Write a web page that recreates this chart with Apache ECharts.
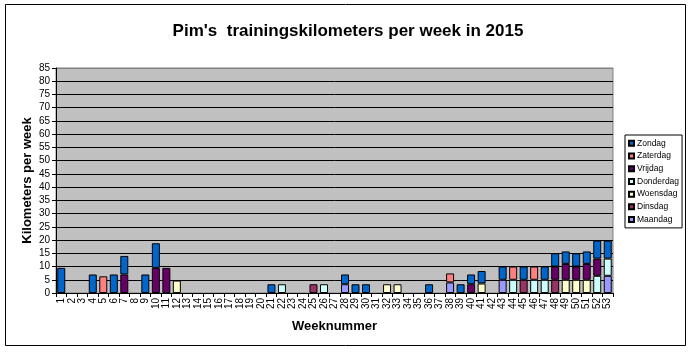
<!DOCTYPE html>
<html><head><meta charset="utf-8">
<script src="https://cdn.jsdelivr.net/npm/echarts@6/dist/echarts.min.js"></script>
<style>html,body{margin:0;padding:0;background:#fff}#c{width:689px;height:352px}</style>
</head><body><div id="c"></div>
<script>
const _ = null;
const weeks = Array.from({length:53},(v,i)=>String(i+1));
const yTicks = {min:0,max:85,interval:5};
//                1  2  3  4  5  6  7  8  9  10   11 12 13 14 15 16 17 18 19 20   21 22 23 24 25 26 27 28 29 30   31 32 33 34 35 36 37 38 39 40   41 42 43 44 45 46 47 48 49 50   51 52 53
const maandag   = [_,_,_,_,_,_,_,_,_,_,  _,_,_,_,_,_,_,_,_,_,  _,_,_,_,_,_,_,3.3,_,_,  _,_,_,_,_,_,_,4,_,_,  _,_,5,_,_,_,_,_,_,_,  _,_,6.5];
const dinsdag   = [_,_,_,_,_,_,_,_,_,_,  _,_,_,_,_,_,_,_,_,_,  _,_,_,_,3.3,_,_,_,_,_,  _,_,_,_,_,_,_,_,_,_,  _,_,_,_,5,_,_,5,_,_,  _,_,_];
const woensdag  = [_,_,_,_,_,_,_,_,_,_,  _,4.7,_,_,_,_,_,_,_,_,  _,_,_,_,_,_,_,_,_,_,  _,3.3,3.3,_,_,_,_,_,_,_,  3.6,_,_,_,_,_,_,_,5,5,  5,_,_];
const donderdag = [_,_,_,_,_,_,_,_,_,_,  _,_,_,_,_,_,_,_,_,_,  _,3.3,_,_,_,3.3,_,_,_,_,  _,_,_,_,_,_,_,_,_,_,  _,_,_,5,_,5,5,_,_,_,  _,6.5,6.5];
const vrijdag   = [_,_,_,_,_,_,7,_,_,9.5,  9.5,_,_,_,_,_,_,_,_,_,  _,_,_,_,_,_,_,_,_,_,  _,_,_,_,_,_,_,_,_,3.3,  _,_,_,_,_,_,_,5,6,5,  6,6.5,_];
const zaterdag  = [_,_,_,_,6.3,_,_,_,_,_,  _,_,_,_,_,_,_,_,_,_,  _,_,_,_,_,_,_,_,_,_,  _,_,_,_,_,_,_,3.4,_,_,  _,_,_,5,_,5,_,_,_,_,  _,_,_];
const zondag    = [9.5,_,_,7,_,7,7,_,7,9.3,  _,_,_,_,_,_,_,_,_,_,  3.3,_,_,_,_,_,_,3.7,3.3,3.3,  _,_,_,_,_,3.3,_,_,3.3,3.7,  4.7,_,5,_,5,_,5,5,4.7,5,  4.7,6.8,6.8];

const seriesDefs = [
  ['Maandag', maandag, '#9999FF'],
  ['Dinsdag', dinsdag, '#993366'],
  ['Woensdag', woensdag, '#FFFFCC'],
  ['Donderdag', donderdag, '#CCFFFF'],
  ['Vrijdag', vrijdag, '#660066'],
  ['Zaterdag', zaterdag, '#FF8080'],
  ['Zondag', zondag, '#0066CC']
];
const F = '"Liberation Sans", Arial, sans-serif';
const chart = echarts.init(document.getElementById('c'), null, {renderer:'canvas'});
const splitColors = Array.from({length:18},(v,i)=> i===17 ? '#808080' : '#000000');
chart.setOption({
  animation:false,
  backgroundColor:'#ffffff',
  title:{text:"Pim's  trainingskilometers per week in 2015", left:343, top:18, textAlign:'center',
    textStyle:{fontFamily:F, fontSize:17, fontWeight:'bold', color:'#000'}},
  legend:{orient:'vertical', left:625, top:135, padding:[2,3,2,3],
    data:['Zondag','Zaterdag','Vrijdag','Donderdag','Woensdag','Dinsdag','Maandag'],
    itemWidth:5, itemHeight:5, itemGap:0, icon:'rect',
    borderColor:'#000', borderWidth:1,
    textStyle:{fontFamily:F, fontSize:8.5, color:'#000', lineHeight:12.7, padding:[0,0,0,-2]}},
  grid:{left:56, right:76, top:68, bottom:59, show:true, backgroundColor:'#C0C0C0', borderColor:'#808080', borderWidth:1},
  xAxis:{type:'category', data:weeks, name:'Weeknummer', nameLocation:'middle', nameGap:27, nameMoveOverlap:false,
    nameTextStyle:{fontFamily:F, fontSize:13, fontWeight:'bold', color:'#000'},
    axisLine:{lineStyle:{color:'#000'}}, axisTick:{show:true, length:4, lineStyle:{color:'#000'}},
    axisLabel:{rotate:90, interval:0, fontFamily:F, fontSize:10, color:'#000', margin:5}},
  yAxis:{type:'value', min:yTicks.min, max:yTicks.max, interval:yTicks.interval,
    name:'Kilometers per week', nameLocation:'middle', nameGap:22, nameRotate:90, nameMoveOverlap:false,
    nameTextStyle:{fontFamily:F, fontSize:13, fontWeight:'bold', color:'#000'},
    axisLine:{show:true, lineStyle:{color:'#000'}}, axisTick:{show:true, length:4, lineStyle:{color:'#000'}},
    axisLabel:{fontFamily:F, fontSize:10, color:'#000', margin:6},
    splitLine:{show:true, lineStyle:{color:splitColors, width:1}}},
  series: seriesDefs.map(([n,d,c])=>({name:n, type:'bar', stack:'km', data:d, barWidth:8,
    itemStyle:{color:c, borderColor:'#000', borderWidth:1}})),
  graphic:[{type:'rect', shape:{x:5.5, y:4.5, width:680, height:341}, style:{fill:null, stroke:'#000', lineWidth:1}, silent:true}]
});
</script></body></html>
